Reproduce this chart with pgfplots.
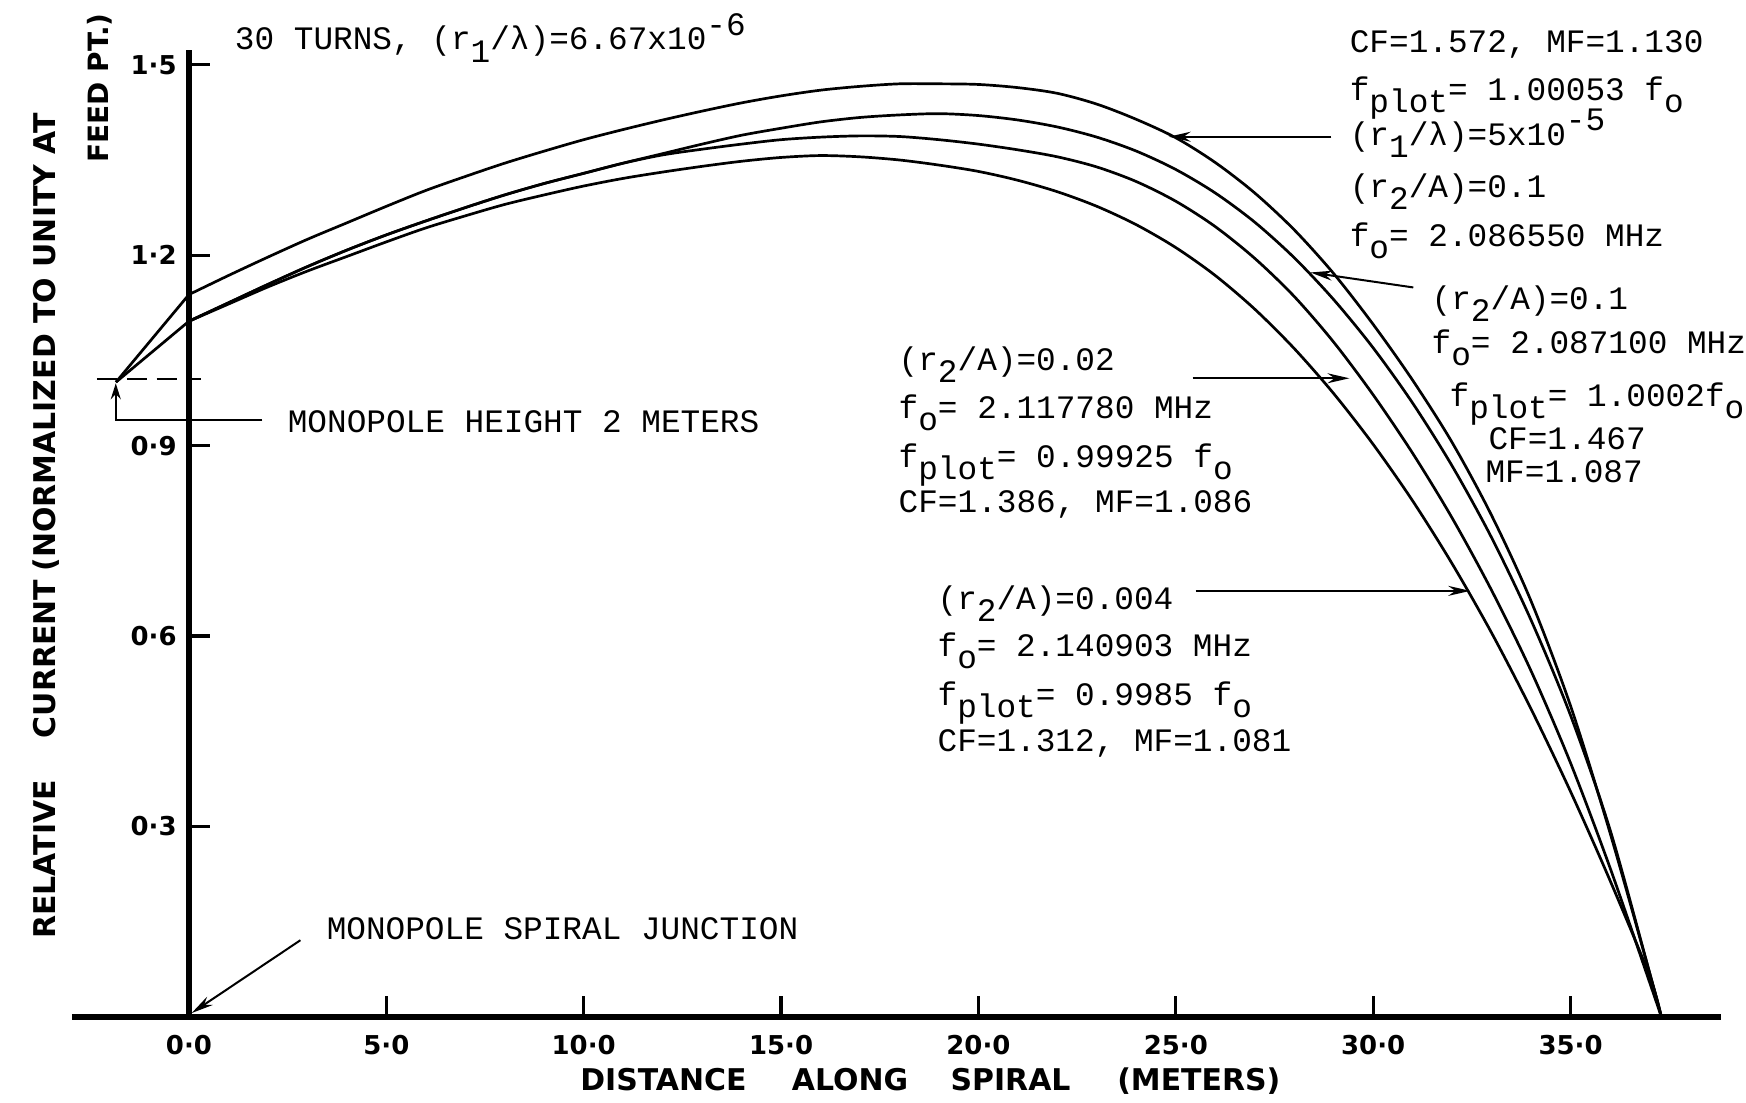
\documentclass[border=0pt]{standalone}
\usepackage{fontspec}
\usepackage{pgfplots}
\pgfplotsset{compat=1.18}
\usetikzlibrary{arrows.meta}
\newfontfamily\mono{Liberation Mono}
\newfontfamily\bsans{DejaVu Sans}
\newcommand{\sub}[1]{\raisebox{-0.37em}{#1}}
\newcommand{\sups}[1]{\raisebox{0.45em}{#1}}
\tikzset{
  ann/.style={font=\mono\fontsize{16.4}{18}\selectfont, anchor=base west, inner sep=0pt},
  lab/.style={font=\bsans\bfseries\fontsize{15}{18}\selectfont, anchor=base west, inner sep=0pt},
  lead/.style={line width=1pt, -{Stealth[length=11pt,width=5pt]}}
}
\begin{document}
\begin{tikzpicture}
\begin{scope}[x=0.5pt,y=-0.5pt,shift={(-189.3,-1018.9)}]
\path[use as bounding box] (0,0) rectangle (1746,1105);
\end{scope}
\begin{axis}[anchor=origin, at={(0,0)}, scale only axis, width=826.12pt, height=484.31pt,
  xmin=-2.966, xmax=38.81, ymin=0, ymax=1.523, enlargelimits=false, clip=false,
  axis x line=middle, axis y line=middle, axis line style={-, line width=2.6pt},
  tick align=inside, major tick length=10.5pt, tick style={line width=1.6pt, black},
  xtick={0,5,10,15,20,25,30,35}, xticklabels={0·0,5·0,10·0,15·0,20·0,25·0,30·0,35·0},
  ytick={0.3,0.6,0.9,1.2,1.5}, yticklabels={0·3,0·6,0·9,1·2,1·5},
  ticklabel style={font=\bsans\bfseries\fontsize{13}{15}\selectfont, inner sep=0pt},
  xticklabel style={anchor=north, yshift=-9pt},
  yticklabel style={anchor=east, xshift=-6pt},
  hide obscured x ticks=false, hide obscured y ticks=false,
  every axis plot/.append style={black, line width=1.35pt}]
% curve 1: (r1/lambda)=5e-5, (r2/A)=0.1, CF=1.572
\addplot[sharp plot] coordinates {(-1.85,1.0) (0,1.138)};
\addplot[smooth] coordinates {(0,1.138) (1,1.168) (2,1.197) (3,1.225) (4,1.251) (5,1.277) (6,1.302) (7,1.324) (8,1.345) (9,1.364) (10,1.382) (11,1.398) (12,1.413) (13,1.427) (14,1.440) (15,1.451) (16,1.460) (17,1.466) (18,1.470) (19,1.470) (20,1.469) (21,1.464) (22,1.455) (23,1.438) (24,1.414) (25,1.385) (26,1.346) (27,1.298) (28,1.240) (29,1.171) (30,1.091) (31,1.003) (32,0.905) (33,0.790) (34,0.655) (35,0.490) (36,0.290) (37,0.070) (37.3,0)};
% curve 2: (r2/A)=0.1, CF=1.467
\addplot[sharp plot] coordinates {(-1.85,1.0) (0,1.096)};
\addplot[smooth] coordinates {(0,1.096) (1,1.125) (2,1.154) (3,1.182) (4,1.208) (5,1.232) (6,1.254) (7,1.275) (8,1.295) (9,1.313) (10,1.329) (11,1.345) (12,1.360) (13,1.375) (14,1.389) (15,1.400) (16,1.410) (17,1.417) (18,1.421) (19,1.423) (20,1.420) (21,1.413) (22,1.402) (23,1.386) (24,1.364) (25,1.335) (26,1.298) (27,1.252) (28,1.196) (29,1.130) (30,1.054) (31,0.967) (32,0.868) (33,0.755) (34,0.625) (35,0.475) (36,0.295) (37,0.070) (37.3,0)};
% curve 3: (r2/A)=0.02, CF=1.386
\addplot[smooth] coordinates {(0,1.096) (1,1.125) (2,1.154) (3,1.182) (4,1.208) (5,1.232) (6,1.254) (7,1.275) (8,1.295) (9,1.313) (10,1.329) (11,1.345) (12,1.358) (13,1.367) (14,1.375) (15,1.382) (16,1.386) (17,1.388) (18,1.387) (19,1.382) (20,1.375) (21,1.366) (22,1.355) (23,1.339) (24,1.316) (25,1.285) (26,1.245) (27,1.195) (28,1.135) (29,1.063) (30,0.980) (31,0.888) (32,0.786) (33,0.672) (34,0.545) (35,0.400) (36,0.235) (37,0.055) (37.3,0)};
% curve 4: (r2/A)=0.004, CF=1.312
\addplot[smooth] coordinates {(0,1.096) (1,1.123) (2,1.150) (3,1.175) (4,1.198) (5,1.221) (6,1.243) (7,1.262) (8,1.280) (9,1.295) (10,1.309) (11,1.321) (12,1.331) (13,1.340) (14,1.348) (15,1.354) (16,1.357) (17,1.355) (18,1.350) (19,1.342) (20,1.332) (21,1.318) (22,1.300) (23,1.277) (24,1.248) (25,1.212) (26,1.168) (27,1.115) (28,1.053) (29,0.982) (30,0.902) (31,0.813) (32,0.714) (33,0.605) (34,0.485) (35,0.355) (36,0.215) (37,0.065) (37.3,0)};
\end{axis}
\begin{scope}[x=0.5pt,y=-0.5pt,shift={(-189.3,-1018.9)}]
\node[ann] at (235,50) {30 TURNS, (r\sub{1}/λ)=6.67x10\sups{-6}};
\node[ann] at (1352,53) {CF=1.572, MF=1.130};
\node[ann] at (1352,101) {f\sub{plot}= 1.00053 f\sub{o}};
\node[ann] at (1352,146) {(r\sub{1}/λ)=5x10\sups{-5}};
\node[ann] at (1352,198) {(r\sub{2}/A)=0.1};
\node[ann] at (1352,247) {f\sub{o}= 2.086550 MHz};
\draw[lead] (1334,137) -- (1171,137);
\node[ann] at (1434,310) {(r\sub{2}/A)=0.1};
\node[ann] at (1434,354) {f\sub{o}= 2.087100 MHz};
\node[ann] at (1452,407) {f\sub{plot}= 1.0002f\sub{o}};
\node[ann] at (1491,450) {CF=1.467};
\node[ann] at (1488,483) {MF=1.087};
\draw[lead] (1416,288) -- (1313,273);
\node[ann] at (900,371) {(r\sub{2}/A)=0.02};
\node[ann] at (900,419) {f\sub{o}= 2.117780 MHz};
\node[ann] at (900,468) {f\sub{plot}= 0.99925 f\sub{o}};
\node[ann] at (900,513) {CF=1.386, MF=1.086};
\draw[lead] (1195,379) -- (1352,379);
\node[ann] at (939,611) {(r\sub{2}/A)=0.004};
\node[ann] at (939,658) {f\sub{o}= 2.140903 MHz};
\node[ann] at (939,707) {f\sub{plot}= 0.9985 f\sub{o}};
\node[ann] at (939,753) {CF=1.312, MF=1.081};
\draw[lead] (1198,592) -- (1473,592);
\node[ann] at (288,433) {MONOPOLE HEIGHT 2 METERS};
\draw[line width=1pt, -{Stealth[length=8pt,width=5pt]}] (263,421) -- (116,421) -- (116,384);
\draw[line width=1pt, dash pattern=on 10pt off 5pt] (97,380) -- (201,380);
\node[ann] at (327,941) {MONOPOLE SPIRAL JUNCTION};
\draw[lead] (301,942) -- (192,1015);
\node[lab] at (581,1093) {DISTANCE};
\node[lab] at (793,1093) {ALONG};
\node[lab] at (952,1093) {SPIRAL};
\node[lab] at (1119,1093) {(METERS)};
\node[lab, rotate=90] at (56,941) {RELATIVE};
\node[lab, rotate=90] at (56,740) {CURRENT};
\node[lab, rotate=90] at (56,573) {(NORMALIZED TO UNITY AT};
\node[lab, rotate=90, font=\bsans\bfseries\fontsize{14}{16}\selectfont] at (109,163) {FEED PT.)};
\end{scope}
\end{tikzpicture}
\end{document}
